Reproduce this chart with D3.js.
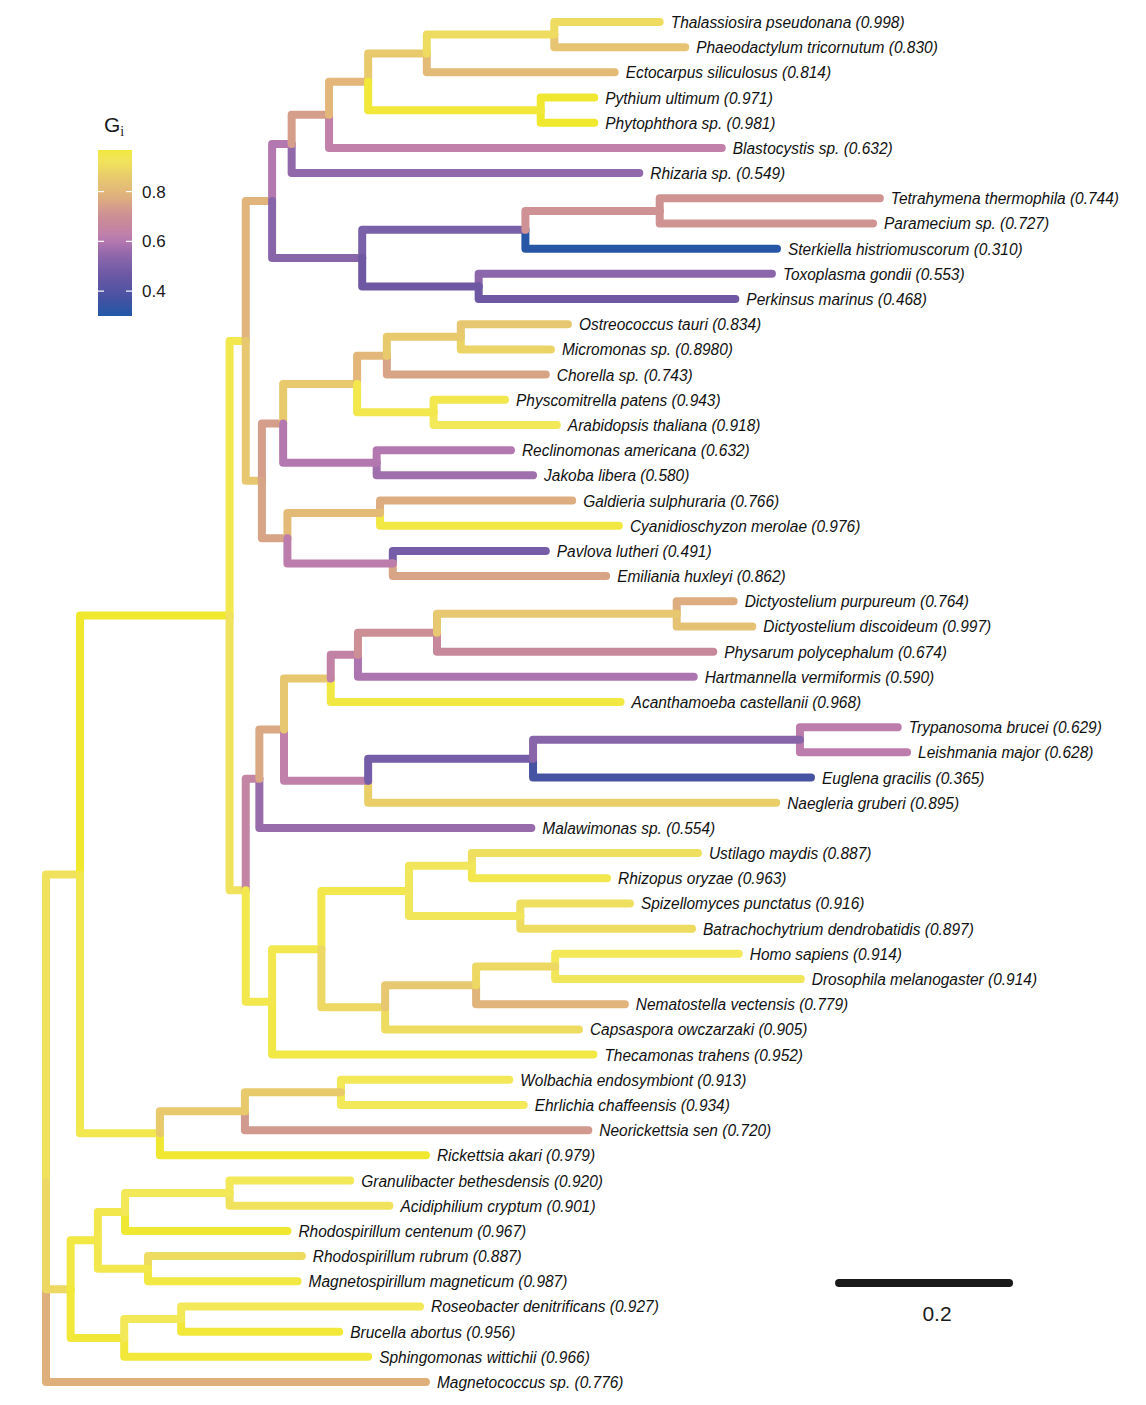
<!DOCTYPE html>
<html><head><meta charset="utf-8">
<script src="https://cdn.jsdelivr.net/npm/d3@7"></script>
<style>body{margin:0;background:#fff}svg{display:block}</style>
</head><body>
<script>
// ---------- DATA ----------
const leafNames = ["Thalassiosira pseudonana","Phaeodactylum tricornutum","Ectocarpus siliculosus","Pythium ultimum","Phytophthora sp.","Blastocystis sp.","Rhizaria sp.","Tetrahymena thermophila","Paramecium sp.","Sterkiella histriomuscorum","Toxoplasma gondii","Perkinsus marinus","Ostreococcus tauri","Micromonas sp.","Chorella sp.","Physcomitrella patens","Arabidopsis thaliana","Reclinomonas americana","Jakoba libera","Galdieria sulphuraria","Cyanidioschyzon merolae","Pavlova lutheri","Emiliania huxleyi","Dictyostelium purpureum","Dictyostelium discoideum","Physarum polycephalum","Hartmannella vermiformis","Acanthamoeba castellanii","Trypanosoma brucei","Leishmania major","Euglena gracilis","Naegleria gruberi","Malawimonas sp.","Ustilago maydis","Rhizopus oryzae","Spizellomyces punctatus","Batrachochytrium dendrobatidis","Homo sapiens","Drosophila melanogaster","Nematostella vectensis","Capsaspora owczarzaki","Thecamonas trahens","Wolbachia endosymbiont","Ehrlichia chaffeensis","Neorickettsia sen","Rickettsia akari","Granulibacter bethesdensis","Acidiphilium cryptum","Rhodospirillum centenum","Rhodospirillum rubrum","Magnetospirillum magneticum","Roseobacter denitrificans","Brucella abortus","Sphingomonas wittichii","Magnetococcus sp."];
const leafGiLabels = ["0.998","0.830","0.814","0.971","0.981","0.632","0.549","0.744","0.727","0.310","0.553","0.468","0.834","0.8980","0.743","0.943","0.918","0.632","0.580","0.766","0.976","0.491","0.862","0.764","0.997","0.674","0.590","0.968","0.629","0.628","0.365","0.895","0.554","0.887","0.963","0.916","0.897","0.914","0.914","0.779","0.905","0.952","0.913","0.934","0.720","0.979","0.920","0.901","0.967","0.887","0.987","0.927","0.956","0.966","0.776"];
const leafParents = ["AQ","AQ","AO","AP","AP","AM","AK","AT","AT","AR","AS","AS","AH","AH","AF","AG","AG","AE","AE","AI","AI","AJ","AJ","M","M","L","K","I","O","O","N","J","G","U","U","V","V","X","X","W","T","P","R3","R3","R2","R","AL1a1","AL1a1","AL1a","AL1b","AL1b","AL2a","AL2a","AL2","root"];
const leafDepths = [0.722,0.752,0.669,0.645,0.645,0.795,0.698,0.981,0.973,0.860,0.854,0.811,0.614,0.594,0.588,0.540,0.601,0.547,0.573,0.619,0.674,0.588,0.659,0.809,0.831,0.785,0.762,0.676,1.002,1.013,0.900,0.859,0.571,0.767,0.660,0.687,0.760,0.815,0.888,0.681,0.627,0.644,0.545,0.562,0.638,0.447,0.358,0.404,0.284,0.301,0.296,0.440,0.345,0.379,0.447];
const leafBranchGi = [0.90,0.84,0.81,0.98,0.99,0.63,0.55,0.72,0.72,0.31,0.54,0.47,0.85,0.88,0.75,0.95,0.94,0.60,0.57,0.77,0.96,0.49,0.75,0.77,0.83,0.67,0.59,0.96,0.62,0.62,0.37,0.87,0.56,0.91,0.95,0.91,0.90,0.94,0.93,0.79,0.90,0.96,0.94,0.94,0.73,0.98,0.94,0.92,0.98,0.90,0.96,0.94,0.97,0.97,0.78];

const nodeIds     = ["root","A","AL","E","R","R2","R3","AL1","AL1a","AL1a1","AL1b","AL2","AL2a","Y","F","Z","AA","AK","CIL","AM","AN","AO","AQ","AP","AR","AT","AS","AB","AC","AD","AE","AF","AG","AH","AI","AJ","G","P","H","J","I","K","L","M","N","O","Q","S","T","U","V","W","X"];
const nodeParents = [null,"root","root","A","A","R","R2","AL","AL1","AL1a","AL1","AL","AL2","E","E","Y","Y","Z","Z","AK","AM","AN","AO","AN","CIL","AR","CIL","AA","AA","AB","AB","AD","AD","AF","AC","AC","F","F","G","H","H","I","K","L","J","N","P","Q","Q","S","S","T","W"];
const nodeDepths  = [0,0.040,0.029,0.216,0.134,0.234,0.347,0.061,0.093,0.216,0.120,0.092,0.159,0.235,0.235,0.266,0.254,0.289,0.372,0.333,0.379,0.448,0.598,0.582,0.564,0.722,0.509,0.279,0.284,0.366,0.389,0.401,0.456,0.488,0.393,0.408,0.251,0.266,0.280,0.379,0.335,0.367,0.460,0.742,0.573,0.887,0.324,0.427,0.399,0.501,0.558,0.506,0.599];
const nodeGi      = [null,0.92,0.89,0.99,0.95,0.86,0.86,0.96,0.95,0.94,0.95,0.97,0.94,0.95,0.92,0.79,0.85,0.60,0.53,0.74,0.80,0.86,0.90,0.97,0.50,0.71,0.47,0.74,0.75,0.86,0.60,0.80,0.95,0.86,0.81,0.62,0.65,0.95,0.76,0.63,0.85,0.64,0.70,0.85,0.49,0.53,0.95,0.95,0.89,0.93,0.93,0.85,0.89];

const colorStops  = [0.30,0.37,0.47,0.50,0.55,0.60,0.63,0.68,0.72,0.75,0.78,0.82,0.86,0.90,0.94,0.98,1.00];
const colorValues = ["#2257a8","#4652a2","#6e58a4","#7a60a8","#9168aa","#b478b0","#c080aa","#c98a98","#cf9392","#d8a486","#dfb07c","#e4be76","#e8ca6c","#eedc60","#f2e858","#f0e830","#efe828"];
const legendTicks = [0.8,0.6,0.4];
const legendDomain = [0.30,0.967];
const scaleBarValue = 0.2;
const scaleBarStart = 0.933;

// ---------- SCALES ----------
const W = 1146, H = 1405;
const x = d3.scaleLinear().domain([0,1]).range([46,896]);
const yLeaf = d3.scaleLinear().domain([0, leafNames.length-1]).range([22,1382]);
const color = d3.scaleLinear().domain(colorStops).range(colorValues).interpolate(d3.interpolateRgb).clamp(true);

// ---------- BUILD TREE ----------
const nodes = {};
nodeIds.forEach((id,i)=>{ nodes[id] = {id, parent:nodeParents[i], depth:nodeDepths[i], gi:nodeGi[i], children:[], leaf:false}; });
leafNames.forEach((n,i)=>{ const id="leaf"+i; nodes[id]={id, parent:leafParents[i], depth:leafDepths[i], gi:leafBranchGi[i], children:[], leaf:true, idx:i}; });
Object.values(nodes).forEach(n=>{ if(n.parent) nodes[n.parent].children.push(n); });
function yOf(n){ if(n.y!==undefined) return n.y; n.y = n.leaf ? yLeaf(n.idx) : d3.mean(n.children, yOf); return n.y; }
yOf(nodes.root);

const svg = d3.select("body").append("svg").attr("width",W).attr("height",H);

// edges: tip edges first, then internal edges (preorder)
const pre = [];
(function walk(n){ n.children.forEach(c=>{ pre.push(c); walk(c); }); })(nodes.root);
const edges = pre.filter(e=>e.leaf).concat(pre.filter(e=>!e.leaf));
svg.append("g").selectAll("path").data(edges).join("path")
  .attr("d", c=>{ const p = nodes[c.parent]; return `M${x(p.depth)},${p.y}V${c.y}H${x(c.depth)}`; })
  .attr("fill","none").attr("stroke", c=>color(c.gi)).attr("stroke-width",8)
  .attr("stroke-linecap","round").attr("stroke-linejoin","round");

// labels
const leaves = pre.filter(e=>e.leaf);
svg.append("g").selectAll("text").data(leaves).join("text")
  .attr("transform", d=>`translate(${x(d.depth)+11},${d.y+6}) scale(0.91,1)`)
  .attr("font-family","'Liberation Sans', Arial, sans-serif").attr("font-style","italic")
  .attr("font-size",17).attr("fill","#111")
  .text(d=>`${leafNames[d.idx]} (${leafGiLabels[d.idx]})`);

// ---------- LEGEND ----------
const lg = svg.append("g");
const yLeg = d3.scaleLinear().domain(legendDomain).range([316,150]);
const grad = svg.append("defs").append("linearGradient").attr("id","gi").attr("x1",0).attr("y1",1).attr("x2",0).attr("y2",0);
d3.range(0,1.0001,0.05).forEach(t=>{
  const v = legendDomain[0]+t*(legendDomain[1]-legendDomain[0]);
  grad.append("stop").attr("offset",t).attr("stop-color",color(v));
});
lg.append("rect").attr("x",98).attr("y",yLeg(legendDomain[1])).attr("width",34)
  .attr("height",yLeg(legendDomain[0])-yLeg(legendDomain[1])).attr("fill","url(#gi)");
legendTicks.forEach(t=>{
  lg.append("line").attr("x1",98).attr("x2",104).attr("y1",yLeg(t)).attr("y2",yLeg(t)).attr("stroke","#fff").attr("stroke-width",1.2);
  lg.append("line").attr("x1",126).attr("x2",132).attr("y1",yLeg(t)).attr("y2",yLeg(t)).attr("stroke","#fff").attr("stroke-width",1.2);
  lg.append("text").attr("x",142).attr("y",yLeg(t)+6).attr("font-family","'Liberation Sans', Arial, sans-serif")
    .attr("font-size",17).attr("fill","#1a1a1a").text(t.toFixed(1));
});
const title = lg.append("text").attr("x",104).attr("y",132).attr("font-family","'Liberation Sans', Arial, sans-serif").attr("font-size",21).attr("fill","#1a1a1a");
title.append("tspan").text("G");
title.append("tspan").attr("font-family","'Liberation Serif', 'Times New Roman', serif").attr("font-size",14).attr("dy",4).text("i");

// ---------- SCALE BAR ----------
svg.append("line").attr("x1",x(scaleBarStart)).attr("x2",x(scaleBarStart+scaleBarValue))
  .attr("y1",1283).attr("y2",1283).attr("stroke","#1a1a1a").attr("stroke-width",8).attr("stroke-linecap","round");
svg.append("text").attr("x",(x(scaleBarStart)+x(scaleBarStart+scaleBarValue))/2+13).attr("y",1321)
  .attr("text-anchor","middle").attr("font-family","'Liberation Sans', Arial, sans-serif").attr("font-size",21)
  .attr("fill","#1a1a1a").text(scaleBarValue);
</script>
</body></html>
